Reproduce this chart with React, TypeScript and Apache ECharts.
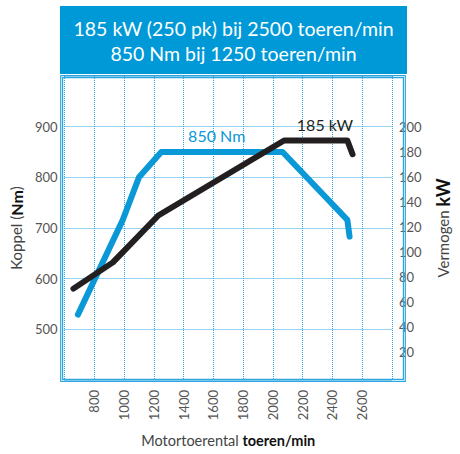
import React, { useEffect, useRef } from "react";
import * as echarts from "echarts";

const rpmTorque = [690, 990, 1100, 1250, 2065, 2500, 2515];
const torqueNm = [529, 715, 800, 850, 850, 716, 683];
const rpmPower = [660, 925, 1100, 1230, 2075, 2500, 2535];
const powerKw = [70.5, 91.5, 113, 129, 189, 189, 178];
const powerTicks = [20, 40, 60, 80, 100, 120, 140, 160, 180, 200];
const titleLines = ["185 kW (250 pk) bij 2500 toeren/min", "850 Nm bij 1250 toeren/min"];

const BLUE = "#0A98D6";
const GRIDBLUE = "#2FA6DF";
const DARK = "#231F20";
const FONT = "Lato, 'Noto Sans', sans-serif";

export default function App() {
  const ref = useRef<HTMLDivElement>(null);
  useEffect(() => {
    const chart = echarts.init(ref.current!, null, { renderer: "svg" });
    chart.setOption({
      animation: false,
      textStyle: { fontFamily: FONT },
      grid: { left: 61, top: 76, width: 344, height: 304, show: false },
      xAxis: {
        type: "value",
        min: 600,
        max: 2800,
        interval: 200,
        axisLine: { show: false },
        axisTick: { show: false },
        axisLabel: {
          rotate: 90,
          margin: 10,
          color: "#555",
          fontSize: 13,
          fontFamily: FONT,
          showMinLabel: false,
          showMaxLabel: false,
          formatter: (v: number) => String(v),
        },
        splitLine: { show: true, lineStyle: { type: "dotted", color: GRIDBLUE, width: 1 } },
        name: "{a|Motortoerental }{b|toeren/min}",
        nameLocation: "middle",
        nameGap: 53,
        nameTextStyle: {
          rich: {
            a: { fontSize: 14.5, color: "#444", fontFamily: FONT },
            b: { fontSize: 14.5, color: "#111", fontWeight: "bold", fontFamily: FONT },
          },
        },
      },
      yAxis: [
        {
          type: "value",
          min: 400,
          max: 1000,
          interval: 100,
          position: "left",
          axisLine: { show: false },
          axisTick: { show: false },
          axisLabel: {
            margin: 7,
            color: "#555",
            fontSize: 13,
            fontFamily: FONT,
            showMinLabel: false,
            showMaxLabel: false,
            formatter: (v: number) => String(v),
          },
          splitLine: { show: true, lineStyle: { type: "dotted", color: GRIDBLUE, width: 1 } },
          name: "{a|Koppel (}{b|Nm}{a|)}",
          nameLocation: "middle",
          nameRotate: 90,
          nameGap: 35,
          nameTextStyle: {
            rich: {
              a: { fontSize: 15, color: "#444", fontFamily: FONT },
              b: { fontSize: 16, color: "#111", fontWeight: "bold", fontFamily: FONT },
            },
          },
        },
        {
          type: "value",
          min: -2.6,
          max: 240.6,
          position: "right",
          axisLine: { show: false },
          axisTick: { show: false },
          splitLine: { show: false },
          axisLabel: {
            margin: 7,
            color: "#555",
            fontSize: 13,
            fontFamily: FONT,
            customValues: powerTicks,
            formatter: (v: number) => String(v),
          },
          name: "{a|Vermogen }{b|kW}",
          nameLocation: "middle",
          nameRotate: 90,
          nameGap: 42,
          nameTextStyle: {
            rich: {
              a: { fontSize: 15, color: "#444", fontFamily: FONT },
              b: { fontSize: 18, color: "#111", fontWeight: "bold", fontFamily: FONT },
            },
          },
        },
      ],
      graphic: [
        {
          type: "rect",
          shape: { x: 60, y: 6, width: 347, height: 68 },
          style: { fill: "#0099D8" },
          z: 0,
        },
        {
          type: "text",
          x: 233.5,
          y: 28,
          style: {
            text: titleLines[0],
            fill: "#fff",
            font: `19.5px ${FONT}`,
            align: "center",
            verticalAlign: "middle",
          },
        },
        {
          type: "text",
          x: 233.5,
          y: 53.5,
          style: {
            text: titleLines[1],
            fill: "#fff",
            font: `19.5px ${FONT}`,
            align: "center",
            verticalAlign: "middle",
          },
        },
        {
          type: "rect",
          shape: { x: 60.7, y: 75.7, width: 344.6, height: 305.6 },
          style: { fill: "none", stroke: GRIDBLUE, lineWidth: 1.2 },
          z: 10,
        },
        {
          type: "rect",
          shape: { x: 62.6, y: 77.6, width: 340.8, height: 301.8 },
          style: { fill: "none", stroke: GRIDBLUE, lineWidth: 1.2 },
          z: 10,
        },
        {
          type: "text",
          x: 216.7,
          y: 135,
          style: {
            text: "850 Nm",
            fill: BLUE,
            font: `16px ${FONT}`,
            align: "center",
            verticalAlign: "middle",
          },
          z: 20,
        },
        {
          type: "text",
          x: 325,
          y: 124,
          style: {
            text: "185 kW",
            fill: DARK,
            font: `16px ${FONT}`,
            align: "center",
            verticalAlign: "middle",
          },
          z: 20,
        },
      ],
      series: [
        {
          type: "line",
          name: "Koppel",
          yAxisIndex: 0,
          symbol: "none",
          data: rpmTorque.map((r, i) => [r, torqueNm[i]]),
          lineStyle: { color: BLUE, width: 6, cap: "round", join: "round" },
          z: 3,
        },
        {
          type: "line",
          name: "Vermogen",
          yAxisIndex: 1,
          symbol: "none",
          data: rpmPower.map((r, i) => [r, powerKw[i]]),
          lineStyle: { color: DARK, width: 6, cap: "round", join: "round" },
          z: 4,
        },
      ],
    });
    return () => chart.dispose();
  }, []);
  return (
    <div
      ref={ref}
      style={{ position: "absolute", left: 0, top: 0, width: 460, height: 454 }}
    />
  );
}
